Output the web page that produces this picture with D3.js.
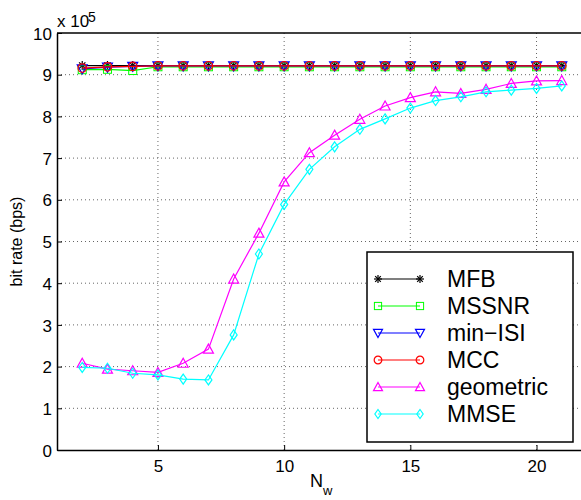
<!DOCTYPE html>
<html><head><meta charset="utf-8">
<script src="https://cdn.jsdelivr.net/npm/d3@7"></script>
<style>body{margin:0;background:#fff;} svg{display:block;font-family:"Liberation Sans",Arial,sans-serif;}</style>
</head><body>
<script>
const nw = [2,3,4,5,6,7,8,9,10,11,12,13,14,15,16,17,18,19,20,21];
const seriesNames = ["MFB","MSSNR","min\u2212ISI","MCC","geometric","MMSE"];
const seriesColors = ["#000000","#00ff00","#0000ff","#ff0000","#ff00ff","#00ffff"];
const seriesMarkers = ["star","square","triDown","circle","triUp","diamond"];
const mfb    = [9.22,9.22,9.22,9.22,9.22,9.22,9.22,9.22,9.22,9.22,9.22,9.22,9.22,9.22,9.22,9.22,9.22,9.22,9.22,9.22];
const mssnr  = [9.12,9.13,9.10,9.19,9.19,9.19,9.19,9.19,9.19,9.19,9.19,9.19,9.19,9.19,9.19,9.19,9.19,9.19,9.19,9.19];
const minIsi = [9.14,9.18,9.20,9.21,9.21,9.21,9.21,9.21,9.21,9.21,9.21,9.21,9.21,9.21,9.21,9.21,9.21,9.21,9.21,9.21];
const mcc    = [9.16,9.19,9.20,9.21,9.21,9.21,9.21,9.21,9.21,9.21,9.21,9.21,9.21,9.21,9.21,9.21,9.21,9.21,9.21,9.21];
const geometric = [2.08,1.94,1.90,1.86,2.08,2.42,4.10,5.20,6.43,7.13,7.55,7.93,8.25,8.45,8.59,8.55,8.65,8.79,8.85,8.86];
const mmse   = [1.98,1.96,1.84,1.80,1.70,1.68,2.76,4.70,5.89,6.73,7.27,7.69,7.94,8.20,8.38,8.47,8.59,8.63,8.67,8.73];
const seriesValues = [mfb, mssnr, minIsi, mcc, geometric, mmse];
const xTicks = [5,10,15,20];
const yTicks = [0,1,2,3,4,5,6,7,8,9,10];

const W = 581, H = 500;
const svg = d3.select("body").append("svg").attr("width", W).attr("height", H);
const L = 57, R = 587, T = 33, B = 450;
const x = d3.scaleLinear().domain([1,22]).range([L,R]);
const y = d3.scaleLinear().domain([0,10]).range([B,T]);

// grid
const g = svg.append("g");
g.selectAll(".gx").data(xTicks).enter().append("line")
  .attr("x1", d=>x(d)).attr("x2", d=>x(d)).attr("y1", T).attr("y2", B)
  .attr("stroke","#666").attr("stroke-width",1).attr("stroke-dasharray","1,3");
g.selectAll(".gy").data(yTicks.slice(1,-1)).enter().append("line")
  .attr("y1", d=>y(d)).attr("y2", d=>y(d)).attr("x1", L).attr("x2", R)
  .attr("stroke","#666").attr("stroke-width",1).attr("stroke-dasharray","1,3");

// axes
const xAxis = d3.axisBottom(x).tickValues(xTicks).tickSizeInner(-5).tickSizeOuter(0).tickPadding(10);
const yAxis = d3.axisLeft(y).tickValues(yTicks).tickSizeInner(-5).tickSizeOuter(0).tickPadding(5);
const gx = svg.append("g").attr("transform",`translate(0,${B})`).call(xAxis);
const gy = svg.append("g").attr("transform",`translate(${L},0)`).call(yAxis);
[gx,gy].forEach(a=>{
  a.select(".domain").attr("stroke","#000").attr("stroke-width",1.5);
  a.selectAll(".tick line").attr("stroke","#000");
  a.selectAll("text").attr("font-size",17).attr("fill","#000").attr("font-family","Liberation Sans, Arial, sans-serif");
});
gy.selectAll("text").attr("dy","0.36em");
svg.append("line").attr("x1",L).attr("x2",R).attr("y1",T).attr("y2",T).attr("stroke","#000").attr("stroke-width",1.5);

// labels
svg.append("text").attr("x",57).attr("y",27).attr("font-size",17).text("x 10");
svg.append("text").attr("x",88).attr("y",22).attr("font-size",14).text("5");
svg.append("text").attr("transform",`translate(22,${(T+B)/2}) rotate(-90)`).attr("text-anchor","middle")
  .attr("font-size",16).text("bit rate (bps)");
const xl = svg.append("text").attr("x",310).attr("y",487).attr("font-size",18);
xl.append("tspan").text("N");
xl.append("tspan").attr("font-size",13).attr("dy",8).text("w");

function marker(sel, type, color, s){
  const r = s/2;
  if(type==="star"){
    const p = sel.append("g");
    [[-r,0,r,0],[0,-r,0,r],[-r*0.7,-r*0.7,r*0.7,r*0.7],[-r*0.7,r*0.7,r*0.7,-r*0.7]].forEach(l=>
      p.append("line").attr("x1",l[0]).attr("y1",l[1]).attr("x2",l[2]).attr("y2",l[3]).attr("stroke",color).attr("stroke-width",1.2));
  } else if(type==="square"){
    sel.append("rect").attr("x",-r*0.8).attr("y",-r*0.8).attr("width",r*1.6).attr("height",r*1.6).attr("fill","none").attr("stroke",color).attr("stroke-width",1);
  } else if(type==="circle"){
    sel.append("circle").attr("r",r*0.85).attr("fill","none").attr("stroke",color).attr("stroke-width",1.2);
  } else if(type==="triUp"){
    sel.append("path").attr("d",`M0,${-r} L${r},${r*0.8} L${-r},${r*0.8} Z`).attr("fill","none").attr("stroke",color).attr("stroke-width",1.2);
  } else if(type==="triDown"){
    sel.append("path").attr("d",`M0,${r} L${r},${-r*0.8} L${-r},${-r*0.8} Z`).attr("fill","none").attr("stroke",color).attr("stroke-width",1.2);
  } else if(type==="diamond"){
    sel.append("path").attr("d",`M0,${-r} L${r*0.7},0 L0,${r} L${-r*0.7},0 Z`).attr("fill","none").attr("stroke",color).attr("stroke-width",1.2);
  }
}

const line = d3.line().x((d,i)=>x(nw[i])).y(d=>y(d));
seriesValues.forEach((vals,si)=>{
  const c = seriesColors[si];
  svg.append("path").datum(vals).attr("d",line).attr("fill","none").attr("stroke",c).attr("stroke-width",1.2);
  vals.forEach((v,i)=>{
    const m = svg.append("g").attr("transform",`translate(${x(nw[i])},${y(v)})`);
    marker(m, seriesMarkers[si], c, si===0?9:10);
  });
});

// legend
const lg = svg.append("g");
lg.append("rect").attr("x",367).attr("y",252).attr("width",206).attr("height",190).attr("fill","#fff").attr("stroke","#000").attr("stroke-width",1.5);
seriesNames.forEach((n,i)=>{
  const yy = 279 + i*27;
  const c = seriesColors[i];
  lg.append("line").attr("x1",378).attr("x2",420).attr("y1",yy).attr("y2",yy).attr("stroke",c).attr("stroke-width",1.2);
  [378,420].forEach(xx=>{
    const m = lg.append("g").attr("transform",`translate(${xx},${yy})`);
    marker(m, seriesMarkers[i], c, i===0?8:9);
  });
  lg.append("text").attr("x",447).attr("y",yy).attr("dy","0.36em").attr("font-size",23).text(n);
});
</script>
</body></html>
